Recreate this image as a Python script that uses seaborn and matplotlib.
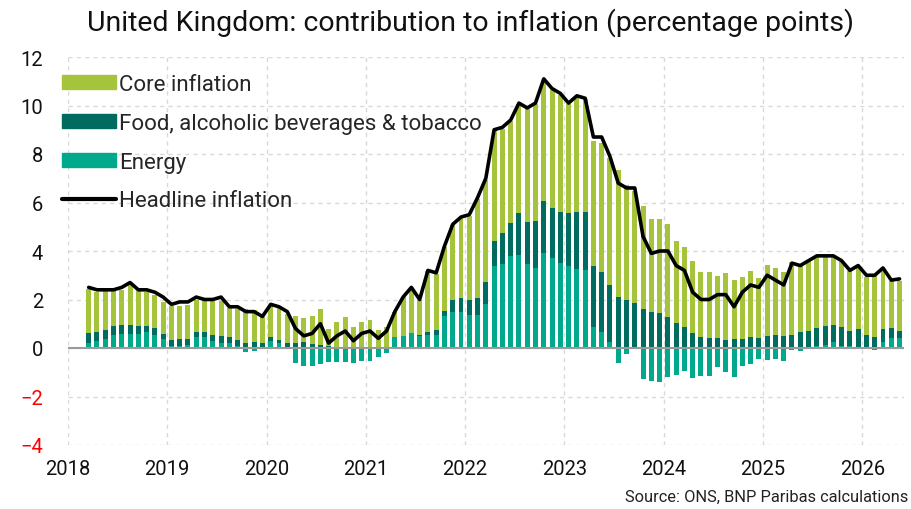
import numpy as np
import pandas as pd
import matplotlib
matplotlib.use("Agg")
import matplotlib.pyplot as plt
import seaborn as sns
from matplotlib.patches import Patch
from matplotlib.lines import Line2D

# monthly data, March 2018 to May 2026 (contributions in percentage points)
months = pd.date_range("2018-03-01", periods=99, freq="MS")

energy = [
    0.21, 0.30, 0.38, 0.55, 0.58, 0.58, 0.58, 0.66, 0.55, 0.37,
    0.08, 0.08, 0.13, 0.45, 0.45, 0.27, 0.20, 0.20, 0.10, -0.16, -0.14, 0.03,
    0.30, 0.19, 0.03, -0.62, -0.75, -0.73, -0.65, -0.57, -0.57, -0.59, -0.60, -0.52,
    -0.52, -0.38, -0.22, 0.44, 0.51, 0.60, 0.51, 0.54, 0.54, 1.31, 1.47, 1.47,
    1.36, 1.36, 1.81, 3.40, 3.46, 3.81, 3.83, 3.46, 3.30, 3.92, 3.71, 3.50,
    3.40, 3.26, 3.22, 0.85, 0.67, 0.23, -0.62, -0.25, 0.00, -1.28, -1.35, -1.39,
    -1.21, -1.11, -0.93, -1.25, -1.14, -1.14, -0.80, -0.98, -1.18, -0.73, -0.66, -0.45,
    -0.48, -0.45, -0.52, -0.07, -0.11, 0.03, 0.07, 0.12, 0.23, 0.10, 0.10, 0.02,
    0.02, -0.07, 0.26, 0.40, 0.40,
]

food = [
    0.42, 0.38, 0.37, 0.35, 0.37, 0.37, 0.32, 0.24, 0.27, 0.22,
    0.24, 0.28, 0.25, 0.19, 0.19, 0.28, 0.28, 0.27, 0.24, 0.22, 0.23, 0.17,
    0.17, 0.15, 0.17, 0.20, 0.25, 0.15, 0.14, 0.10, 0.04, 0.05, 0.04, 0.04,
    0.05, 0.03, 0.02, 0.02, -0.03, 0.03, 0.02, 0.13, 0.22, 0.23, 0.51, 0.58,
    0.63, 0.69, 0.93, 1.03, 1.28, 1.34, 1.72, 1.75, 1.92, 2.16, 2.06, 2.09,
    2.15, 2.33, 2.37, 2.55, 2.48, 2.38, 2.09, 1.99, 1.86, 1.61, 1.47, 1.44,
    1.29, 1.03, 0.85, 0.60, 0.47, 0.41, 0.41, 0.34, 0.37, 0.37, 0.44, 0.40,
    0.51, 0.55, 0.51, 0.55, 0.67, 0.68, 0.75, 0.79, 0.72, 0.75, 0.61, 0.76,
    0.52, 0.47, 0.52, 0.42, 0.31,
]

core = [
    1.79, 1.62, 1.58, 1.47, 1.46, 1.65, 1.43, 1.39, 1.36, 1.31,
    1.41, 1.39, 1.38, 1.33, 1.30, 1.39, 1.47, 1.17, 1.28, 1.38, 1.32, 1.07,
    1.28, 1.32, 1.22, 1.13, 0.97, 1.15, 1.46, 0.67, 1.03, 1.22, 0.82, 1.04,
    1.10, 0.72, 0.85, 1.04, 1.60, 1.85, 1.45, 2.50, 2.30, 2.62, 3.10, 3.30,
    3.45, 4.10, 4.20, 4.52, 4.31, 4.20, 4.50, 4.65, 4.83, 4.95, 4.88, 4.86,
    4.50, 4.75, 4.66, 5.15, 5.30, 5.22, 5.25, 4.75, 4.63, 4.26, 3.85, 3.88,
    3.82, 3.40, 3.30, 2.97, 2.68, 2.71, 2.55, 2.77, 2.43, 2.54, 2.72, 2.49,
    2.91, 2.74, 2.62, 2.98, 2.80, 2.86, 2.95, 2.86, 2.80, 2.70, 2.46, 2.58,
    2.40, 2.50, 2.45, 1.95, 2.07,
]

headline = [
    2.5, 2.4, 2.4, 2.4, 2.5, 2.7, 2.4, 2.4, 2.3, 2.1,
    1.8, 1.9, 1.9, 2.1, 2.0, 2.0, 2.1, 1.7, 1.7, 1.5, 1.5, 1.3,
    1.8, 1.7, 1.5, 0.8, 0.5, 0.6, 1.0, 0.2, 0.5, 0.7, 0.3, 0.6,
    0.7, 0.4, 0.7, 1.5, 2.1, 2.5, 2.0, 3.2, 3.1, 4.2, 5.1, 5.4,
    5.5, 6.2, 7.0, 9.0, 9.1, 9.4, 10.1, 9.9, 10.1, 11.1, 10.7, 10.5,
    10.1, 10.4, 10.3, 8.7, 8.7, 7.9, 6.8, 6.6, 6.6, 4.6, 3.9, 4.0,
    4.0, 3.4, 3.2, 2.3, 2.0, 2.0, 2.2, 2.2, 1.7, 2.3, 2.6, 2.5,
    3.0, 2.8, 2.6, 3.5, 3.4, 3.6, 3.8, 3.8, 3.8, 3.6, 3.2, 3.4,
    3.0, 3.0, 3.3, 2.8, 2.85,
]

series_names = ["Energy", "Food, alcoholic beverages & tobacco", "Core inflation"]
series_colors = ["#00a88c", "#006b5f", "#a5c43b"]
years = list(range(2018, 2027))

df = pd.DataFrame({"date": months, "Energy": energy,
                   "Food, alcoholic beverages & tobacco": food,
                   "Core inflation": core, "Headline inflation": headline})
# position of each month on a fractional-year axis (bar centred mid-month)
df["t"] = df["date"].dt.year + (df["date"].dt.month - 0.5) / 12

sns.set_style("white")
plt.rcParams["font.family"] = ["Roboto", "DejaVu Sans"]

fig = plt.figure(figsize=(9.11, 5.10), dpi=100)
ax = fig.add_axes([68 / 911, 1 - 446 / 510, (904 - 68) / 911, (446 - 58) / 510])

# stacked bars: positives stack upward, negatives downward
pos_base = np.zeros(len(df))
neg_base = np.zeros(len(df))
for name, color in zip(series_names, series_colors):
    v = df[name].to_numpy()
    bottom = np.where(v >= 0, pos_base, neg_base)
    ax.bar(df["t"], v, bottom=bottom, width=0.6 / 12, color=color, linewidth=0, zorder=2)
    pos_base += np.clip(v, 0, None)
    neg_base += np.clip(v, None, 0)

sns.lineplot(data=df, x="t", y="Headline inflation", color="black", linewidth=2.6,
             ax=ax, zorder=4, solid_joinstyle="round")

ax.set_xlim(2018, 2026.42)
ax.set_ylim(-4, 12)
ax.set_yticks(range(-4, 13, 2))
ax.set_xticks(years)
ax.set_xticklabels([str(y) for y in years])
ax.set_xlabel("")
ax.set_ylabel("")
ax.grid(True, color="#d9d9d9", linestyle=(0, (3, 3)), linewidth=1.0, zorder=0)
ax.set_axisbelow(True)
ax.axhline(0, color="#9a9a9a", linewidth=1.5, zorder=3)
for s in ax.spines.values():
    s.set_visible(False)
ax.tick_params(axis="both", length=0, labelsize=14.5, colors="#111111")
ax.tick_params(axis="y", pad=18)
ax.tick_params(axis="x", pad=10)
for lab, val in zip(ax.get_yticklabels(), range(-4, 13, 2)):
    lab.set_color("#ff0000" if val < 0 else "#111111")

handles = [Patch(color=series_colors[2]), Patch(color=series_colors[1]),
           Patch(color=series_colors[0]), Line2D([0], [0], color="black", linewidth=3)]
labels = ["Core inflation", "Food, alcoholic beverages & tobacco", "Energy", "Headline inflation"]
fig.legend(handles, labels, loc="upper left", bbox_to_anchor=(62 / 911, 1 - 75 / 510),
           frameon=False, fontsize=16, handlelength=2.45, handleheight=0.6,
           handletextpad=0.12, labelspacing=0.8, borderpad=0, borderaxespad=0)

fig.text(0.516, 1 - 23 / 510, "United Kingdom: contribution to inflation (percentage points)",
         ha="center", va="center", fontsize=20.5, color="#111111")
fig.text(908 / 911, 1 - 497 / 510, "Source: ONS, BNP Paribas calculations",
         ha="right", va="center", fontsize=11.8, color="#222222")

fig.savefig("out.png", dpi=100)
